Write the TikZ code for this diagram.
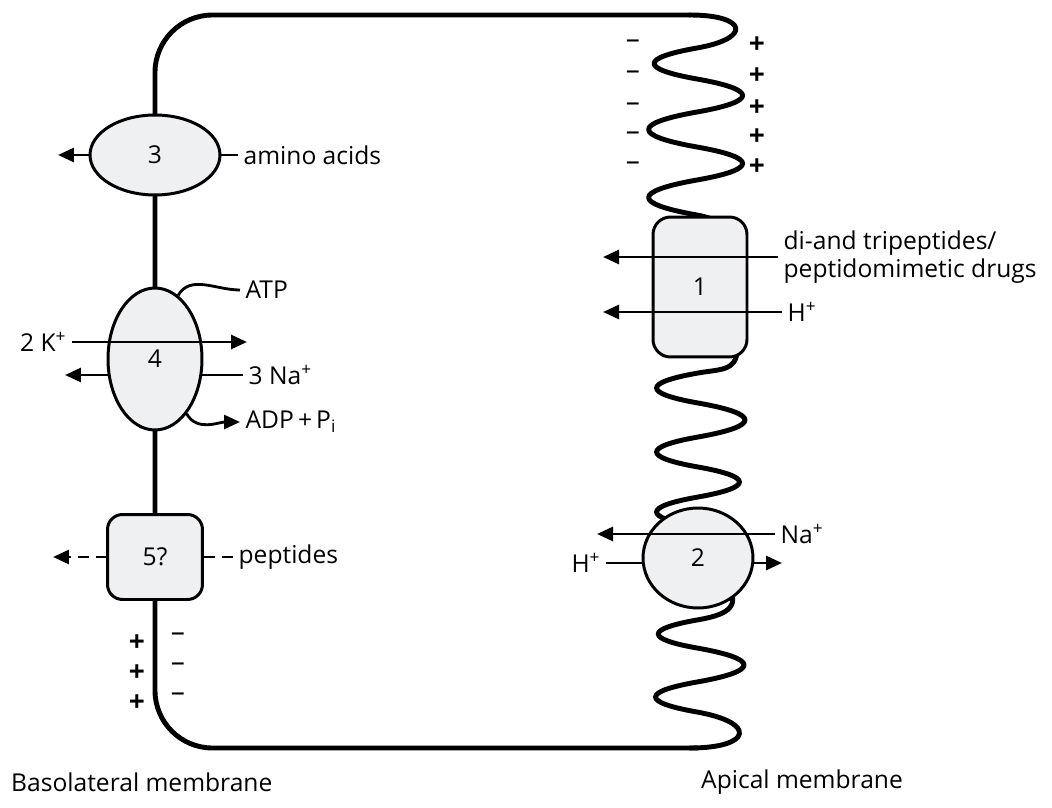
\documentclass[tikz,border=0pt]{standalone}
\usepackage{fontspec}
\setmainfont{Open Sans}
\usetikzlibrary{arrows.meta, shapes.geometric, backgrounds}
\definecolor{carrierfill}{HTML}{EFF0F2}

\begin{document}
\begin{tikzpicture}[
  x=0.02cm, y=-0.02cm,
  font=\fontsize{14}{15.5}\selectfont,
  membrane/.style={line width=2.8pt, line cap=round, line join=round},
  wl/.style={out=190, in=170, looseness=4.8},
  wr/.style={out=-10, in=10, looseness=4.8},
  carrier/.style={draw, line width=1.7pt, fill=carrierfill, font=\fontsize{14}{15}\selectfont},
  oval/.style={carrier, ellipse, inner sep=0pt},
  box/.style={carrier, rectangle, rounded corners=0.3cm},
  flux/.style={line width=1.6pt, -{Triangle[length=0.32cm, width=0.28cm]}},
  link/.style={line width=1.6pt},
  lbl/.style={inner sep=3pt},
  poscharge/.style={inner sep=0pt, font=\fontsize{16}{16}\selectfont\bfseries},
  negcharge/.style={inner sep=0pt, font=\fontsize{16}{16}\selectfont}
]
\useasboundingbox (0,0) rectangle (1052,808);

% transporters
\node[oval, minimum width=2.6cm, minimum height=1.6cm] (t3) at (155,155) {3};
\node[oval, minimum width=1.88cm, minimum height=2.84cm] (t4) at (155,359) {4};
\node[box, minimum width=1.9cm, minimum height=1.7cm] (t5) at (155,557) {5?};
\node[box, rounded corners=0.35cm, minimum width=1.88cm, minimum height=2.8cm] (t1) at (700,287) {1};
\node[oval, minimum width=2.2cm, minimum height=2.0cm] (t2) at (698,558) {2};

% substrates
\node[lbl, anchor=west] (aa) at (238,155) {amino acids};
\node[lbl, anchor=west] (atp) at (240,290) {ATP};
\node[lbl, anchor=east] (k) at (72,342) {2 K\textsuperscript{+}};
\node[lbl, anchor=west] (na) at (243,375) {3 Na\textsuperscript{+}};
\node[lbl, anchor=west] (adp) at (240,422) {ADP\,+\,P\textsubscript{i}};
\node[lbl, anchor=west] (pep) at (233,557) {peptides};
\node[lbl, anchor=west, align=left] (dtp) at (778,257) {di-and tripeptides/\\peptidomimetic drugs};
\node[lbl, anchor=west] (h1) at (782,312) {H\textsuperscript{+}};
\node[lbl, anchor=west] (na2) at (775,534) {Na\textsuperscript{+}};
\node[lbl, anchor=east] (h2) at (606,563) {H\textsuperscript{+}};

\node[anchor=west] (baso) at (5,782) {Basolateral membrane};
\node[anchor=west] (apic) at (695,782) {Apical membrane};

\coordinate (aaout) at (58,155);
\coordinate (kout) at (247,342);
\coordinate (naout) at (65,375);
\coordinate (pepout) at (53,557);
\coordinate (t1out) at (603,0);
\coordinate (na2out) at (597,534);
\coordinate (h2out) at (782,563);

% membrane potential
\foreach \y [count=\i] in {44,75,107,136,166} {
  \node[negcharge] (apneg\i) at (633,\y) {\textendash};
  \node[poscharge] (appos\i) at (757,\y+1) {+};
}
\foreach \y [count=\i] in {643,673,703} {
  \node[poscharge] (blpos\i) at (137,\y) {+};
  \node[negcharge] (blneg\i) at (178,\y-6) {\textendash};
}

\begin{scope}[on background layer]
  % cell
  \draw[membrane, rounded corners=1.15cm] (697,748) -- (155,748) -- (155,15) -- (690,15);
  \draw[membrane] (690,15) to[out=0, in=10, looseness=4.3] (697,48)
    to[wl] (697,79) to[wr] (697,112) to[wl] (697,147) to[wr] (697,180)
    to[wl] (697,215) to[out=-10, in=180] (730,222);
  \draw[membrane] (737,350) to[out=-90, in=10, looseness=1.2] (698,373)
    to[wl] (698,403) to[wr] (698,437) to[wl] (698,467) to[wr] (698,497)
    to[wl] (698,527);
  \draw[membrane] (728,585) to[out=-60, in=10, looseness=1.5] (697,620)
    to[wl] (697,648) to[wr] (697,682) to[wl] (697,712)
    to[out=-10, in=0, looseness=4.3] (690,748);

  \draw[flux] (aa.west) -- (aaout);
  \draw[flux] (na.west) -- (naout);
  \draw[flux, dash pattern=on 0.22cm off 0.14cm] (pep.west) -- (pepout);
  \draw[flux] (h2.east) -- (h2out);
\end{scope}

\draw[flux] (k.east) -- (kout);
\draw[link] (t4.70) to[out=60, in=180] (atp.west);
\draw[flux] (t4.-60) to[out=-60, in=180] (adp.west);
\draw[flux] (dtp.west) -- (dtp.west -| t1out);
\draw[flux] (h1.west) -- (h1.west -| t1out);
\draw[flux] (na2.west) -- (na2out);
\end{tikzpicture}
\end{document}
